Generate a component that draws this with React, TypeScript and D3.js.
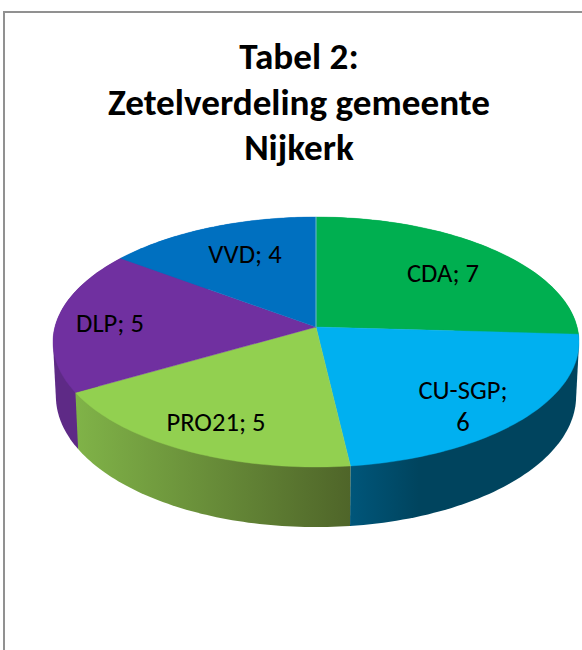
import React from "react";
import * as d3 from "d3";

const parties = ["CDA", "CU-SGP", "PRO21", "DLP", "VVD"];
const seats = [7, 6, 5, 5, 4];
const topColors = ["#00AF50", "#00B0F0", "#92D050", "#7030A0", "#0070C0"];
const wallStops = [
  ["#00AF50", "#00AF50"],
  ["#00567A", "#00445E"],
  ["#80B348", "#4F6529"],
  ["#5E2A86", "#5E2A86"],
  ["#0070C0", "#0070C0"],
];
const titleLines = ["Tabel 2:", "Zetelverdeling gemeente", "Nijkerk"];
const wallOrder = [4, 0, 3, 1, 2];

const W = 582, H = 650;
const apex = { x: 316, y: 327 };
const R = 261.1, K = 123.2, P = 0.12;

const project = (a: number) => {
  const u = Math.sin(a), v = -Math.cos(a), d = 1 - P * v;
  return [apex.x + (R * u) / d, apex.y + (K * v) / d] as [number, number];
};
const projectBase = (a: number) => {
  const [x, y] = project(a);
  return [apex.x + 0.989 * (x - apex.x), 380.4 + 1.048 * (y - apex.y)] as [number, number];
};

const arcs = d3.pie<number>().sort(null)(seats);
const line = d3.line();

const samples = (a0: number, a1: number) =>
  d3.range(0, 61).map((i) => a0 + ((a1 - a0) * i) / 60);

const topPath = (a0: number, a1: number) =>
  line([[apex.x, apex.y], ...samples(a0, a1).map(project)])! + "Z";
const wallPath = (a0: number, a1: number) =>
  line(d3.polygonHull([...samples(a0, a1).map(project), ...samples(a0, a1).map(projectBase)])!)! + "Z";

const labelPos = [
  { x: 443, y: 282 },
  { x: 463, y: 399 },
  { x: 216, y: 431 },
  { x: 110, y: 332 },
  { x: 245, y: 263 },
];
const labelLines = (i: number) =>
  parties[i] === "CU-SGP" ? [`${parties[i]};`, `${seats[i]}`] : [`${parties[i]}; ${seats[i]}`];

export default function App() {
  return (
    <svg width={W} height={H} style={{ position: "absolute", left: 0, top: 0, background: "#fff" }}
      fontFamily="Carlito, Lato, 'Open Sans', sans-serif">
      <defs>
        {arcs.map((a, i) => {
          const xs = samples(a.startAngle, a.endAngle).map((t) => project(t)[0]);
          return (
            <linearGradient key={i} id={`wall${i}`} gradientUnits="userSpaceOnUse"
              x1={d3.min(xs)} x2={d3.max(xs)} y1={0} y2={0}>
              {i === 1 ? (
                <>
                  <stop offset="0" stopColor={wallStops[i][0]} />
                  <stop offset="0.3" stopColor={wallStops[i][1]} />
                  <stop offset="1" stopColor={wallStops[i][1]} />
                </>
              ) : (
                <>
                  <stop offset="0" stopColor={wallStops[i][0]} />
                  <stop offset="1" stopColor={wallStops[i][1]} />
                </>
              )}
            </linearGradient>
          );
        })}
      </defs>
      <rect x={4} y={12} width={W} height={H} fill="#fff" stroke="#919191" strokeWidth={2} />
      <g textAnchor="middle" fontWeight={700} fontSize={37.2} fill="#000">
        {titleLines.map((t, i) => (
          <text key={t} x={299} y={69 + i * 45.5}>{t}</text>
        ))}
      </g>
      {wallOrder.map((i) => (
        <path key={i} d={wallPath(arcs[i].startAngle, arcs[i].endAngle)} fill={`url(#wall${i})`} />
      ))}
      {arcs.map((a, i) => (
        <path key={i} d={topPath(a.startAngle, a.endAngle)} fill={topColors[i]}
          stroke={topColors[i]} strokeWidth={0.4} />
      ))}
      <path d={line([[apex.x, apex.y], project(0)])!} stroke="#6FBFC4" strokeWidth={1} fill="none" />
      <g textAnchor="middle" fontSize={26.6} fill="#000">
        {arcs.map((_, i) => (
          <text key={i} x={labelPos[i].x} y={labelPos[i].y}>
            {labelLines(i).map((t, j) => (
              <tspan key={j} x={labelPos[i].x} dy={j === 0 ? 0 : 32}>{t}</tspan>
            ))}
          </text>
        ))}
      </g>
    </svg>
  );
}
